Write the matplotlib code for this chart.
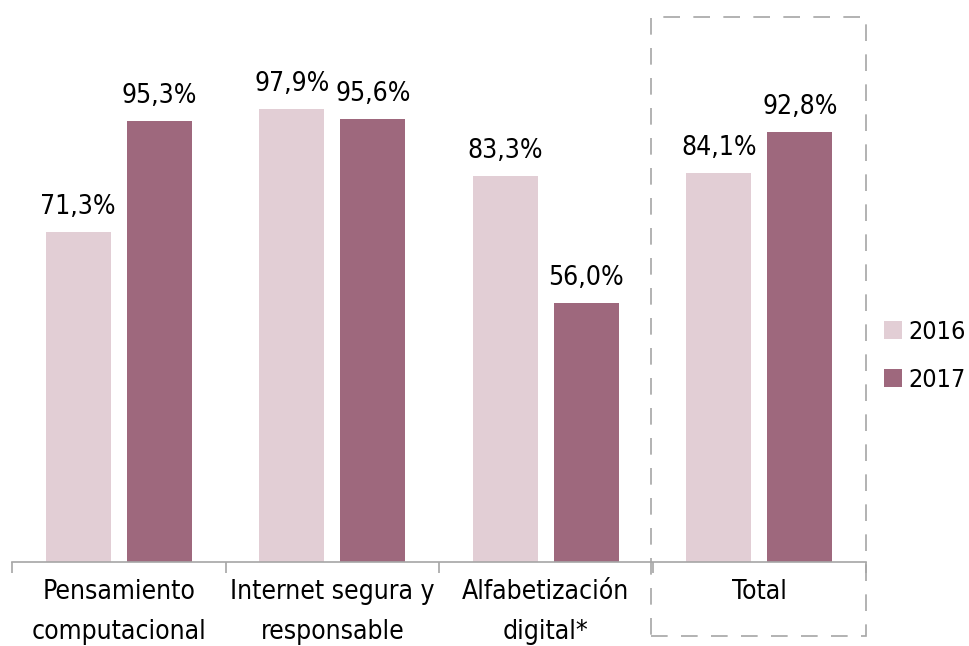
import matplotlib
matplotlib.use("Agg")
import matplotlib.pyplot as plt
import numpy as np
from matplotlib.patches import Rectangle

plt.rcParams['font.family'] = ['DejaVu Sans']
plt.rcParams['font.stretch'] = 'condensed'

categories = ["Pensamiento\ncomputacional", "Internet segura y\nresponsable", "Alfabetización\ndigital*", "Total"]
series_names = ["2016", "2017"]
values_2016 = [71.3, 97.9, 83.3, 84.1]
values_2017 = [95.3, 95.6, 56.0, 92.8]
labels_2016 = ["71,3%", "97,9%", "83,3%", "84,1%"]
labels_2017 = ["95,3%", "95,6%", "56,0%", "92,8%"]

c16 = "#E2CED5"
c17 = "#9E687D"
FS = 19

W, H = 969, 646
fig = plt.figure(figsize=(W/100, H/100), dpi=100)
ax = fig.add_axes([12/W, 1-562/H, (866-12)/W, 562/H])
x = np.arange(len(categories))
bw = 0.305
off = 0.19
b1 = ax.bar(x - off, values_2016, bw, color=c16, label=series_names[0])
b2 = ax.bar(x + off, values_2017, bw, color=c17, label=series_names[1])
ax.set_xlim(-0.5, len(categories) - 0.5)
ax.set_ylim(0, 562/4.63)
for s in ["top", "right", "left"]:
    ax.spines[s].set_visible(False)
ax.spines["bottom"].set_color("#A6A6A6")
ax.spines["bottom"].set_linewidth(1.2)
ax.set_yticks([])
ax.set_xticks(np.arange(len(categories) + 1) - 0.5)
ax.set_xticklabels([])
ax.tick_params(axis="x", length=8, color="#A6A6A6", width=1.2, direction="out")
for i, c in enumerate(categories):
    ax.text(i, -3.6, c, ha="center", va="top", fontsize=FS, linespacing=1.72,
            fontstretch='condensed')

for i in range(len(categories)):
    ax.text(i - off, values_2016[i] + 2.6, labels_2016[i], ha="center", va="bottom",
            fontsize=FS, fontstretch='condensed')
    ax.text(i + off, values_2017[i] + 2.6, labels_2017[i], ha="center", va="bottom",
            fontsize=FS, fontstretch='condensed')

# dashed highlight box around Total
box = Rectangle((651/W, 1-636/H), (866-651)/W, (636-17)/H, transform=fig.transFigure,
                fill=False, edgecolor="#A6A6A6", linewidth=1.2, linestyle=(0, (10, 8)))
fig.patches.append(box)

leg = fig.legend(handles=[b1, b2], labels=series_names, loc="center left",
                 bbox_to_anchor=(884/W, 1-356/H), frameon=False,
                 borderaxespad=0, borderpad=0,
                 prop={'size': 18, 'stretch': 'condensed'},
                 handlelength=0.72, handleheight=0.72, handletextpad=0.25, labelspacing=0.95)

fig.savefig("out.png", dpi=100)
